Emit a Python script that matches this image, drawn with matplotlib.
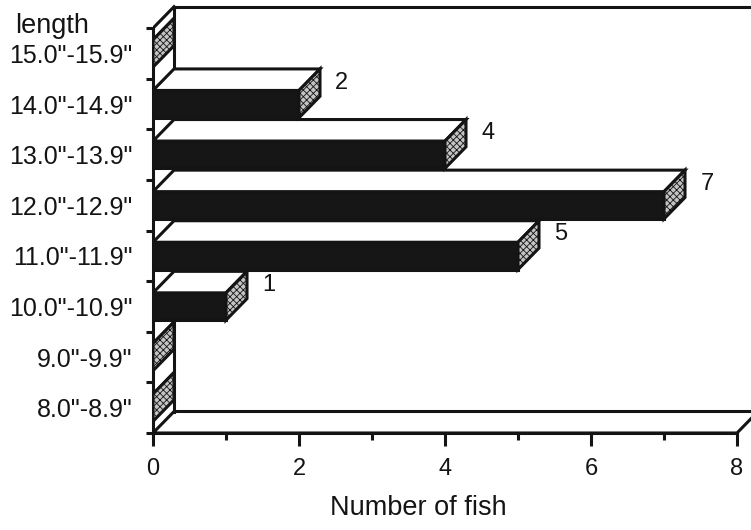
import matplotlib
matplotlib.use("Agg")
import matplotlib.pyplot as plt
from matplotlib.patches import Polygon, Rectangle

plt.rcParams['font.family'] = ['Liberation Sans', 'DejaVu Sans']
plt.rcParams['hatch.color'] = '#3a3a3a'
plt.rcParams['hatch.linewidth'] = 0.6

# ---- data ----
categories = ['8.0"-8.9"', '9.0"-9.9"', '10.0"-10.9"', '11.0"-11.9"',
              '12.0"-12.9"', '13.0"-13.9"', '14.0"-14.9"', '15.0"-15.9"']
counts = [0, 0, 1, 5, 7, 4, 2, 0]
x_major = [0, 2, 4, 6, 8]
x_minor = [1, 3, 5, 7]
x_label = "Number of fish"
y_label = "length"

W, H = 751, 530
fig = plt.figure(figsize=(W / 100, H / 100), dpi=100)
fig.patch.set_facecolor('white')

x0_px, x8_px, ybot_px = 153, 737, 433
px_per_x = (x8_px - x0_px) / 8
px_per_y = 50.6
ax = fig.add_axes([x0_px / W, (H - ybot_px) / H, (W - x0_px) / W, ybot_px / H])
ax.set_xlim(0, (W - x0_px) / px_per_x)
ax.set_ylim(0, ybot_px / px_per_y)
ax.set_facecolor('white')

dx = 21 / px_per_x
dy = 21.5 / px_per_y
n = len(categories)
lw = 2.2
ink = '#141414'

# floor
floor = Polygon([(0, 0), (8, 0), (8 + dx, dy), (dx, dy)], closed=True,
                facecolor='white', edgecolor=ink, lw=lw, zorder=1)
ax.add_patch(floor)
# back wall
ax.plot([dx, dx], [dy, n + dy], color=ink, lw=lw, zorder=1.5)
ax.plot([dx, 20], [n + dy, n + dy], color=ink, lw=lw, zorder=1.5)
# left wall top edge
ax.plot([0, dx], [n, n + dy], color=ink, lw=lw, zorder=1.5)

h = 0.54
for i, v in enumerate(counts):
    yc = i + 0.5
    y0, y1 = yc - h / 2, yc + h / 2
    # front face
    ax.add_patch(Rectangle((0, y0), v, h, facecolor='#161616', edgecolor=ink,
                           lw=lw, zorder=3))
    # top face
    ax.add_patch(Polygon([(0, y1), (v, y1), (v + dx, y1 + dy), (dx, y1 + dy)],
                         closed=True, facecolor='white', edgecolor=ink,
                         lw=lw, zorder=3))
    # side face (stippled)
    ax.add_patch(Polygon([(v, y0), (v + dx, y0 + dy), (v + dx, y1 + dy), (v, y1)],
                         closed=True, facecolor='#c4c4c4', edgecolor=ink,
                         hatch='xxxxx', lw=lw, zorder=3.5))
    if v > 0:
        ax.text(v + dx + 0.21, y1 + dy * 0.36, str(v), ha='left', va='center',
                fontsize=17, color=ink, zorder=4)

# spines / ticks
for s in ['top', 'right']:
    ax.spines[s].set_visible(False)
ax.spines['left'].set_bounds(0, n)
ax.spines['bottom'].set_bounds(0, 8)
for s in ['left', 'bottom']:
    ax.spines[s].set_linewidth(lw)
    ax.spines[s].set_color(ink)

ax.set_xticks(x_major)
ax.set_xticks(x_minor, minor=True)
ax.set_xticklabels([str(t) for t in x_major], fontsize=17, color=ink)
ax.tick_params(axis='x', which='major', direction='out', length=9.5, width=lw,
               pad=8.5, color=ink)
ax.tick_params(axis='x', which='minor', direction='out', length=5, width=lw,
               color=ink)

ax.set_yticks(list(range(n + 1)))
ax.set_yticklabels([])
ax.set_yticks([i + 0.5 for i in range(n)], minor=True)
ax.set_yticklabels(categories, minor=True, fontsize=18, color=ink)
ax.tick_params(axis='y', which='major', direction='out', length=5, width=lw,
               color=ink)
ax.tick_params(axis='y', which='minor', length=0, pad=14.5)

ax.set_xlabel(x_label, fontsize=19.5, color=ink)
ax.xaxis.set_label_coords((418 - x0_px) / (W - x0_px), (ybot_px - 515) / ybot_px)
ax.xaxis.label.set_va('baseline')

fig.text(15 / W, 1 - 33 / H, y_label, ha='left', va='baseline', fontsize=19.5,
         color=ink)

fig.savefig('out.png', dpi=100, facecolor='white')
